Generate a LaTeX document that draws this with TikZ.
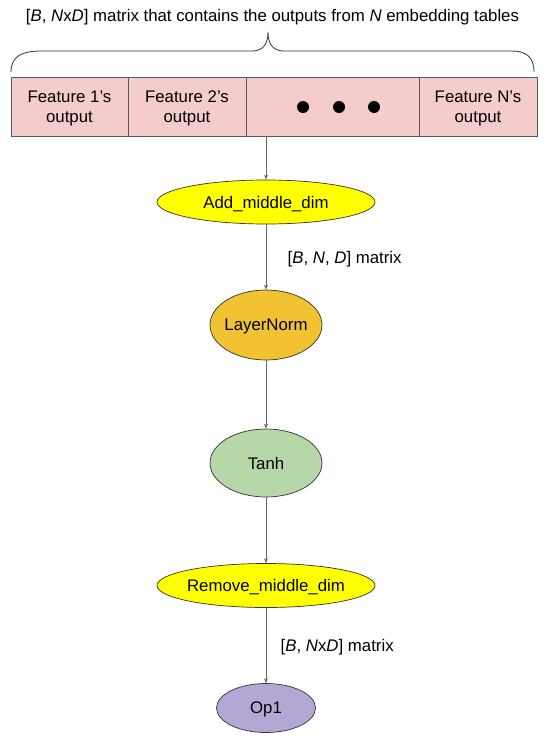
\documentclass[tikz,border=0pt]{standalone}
\usepackage{fontspec}
\setmainfont{Liberation Sans}
\usetikzlibrary{arrows.meta,shapes.geometric}
\definecolor{cellpink}{HTML}{F4CCCC}
\definecolor{opyellow}{HTML}{FFFF00}
\definecolor{opgold}{HTML}{F1C232}
\definecolor{opgreen}{HTML}{B6D7A8}
\definecolor{oppurple}{HTML}{B4A7D6}
\newcommand{\arw}{-{Stealth[length=5pt,width=4pt]}}

\begin{document}
\begin{tikzpicture}[x=1pt,y=-1pt,
  font=\fontsize{16.8}{20}\selectfont,
  every node/.append style={text depth=0pt},
  cell/.style={draw=black!65,fill=cellpink,minimum height=59pt,inner sep=0pt,align=center,line width=0.8pt},
  op/.style={ellipse,draw=black!80,line width=0.7pt,inner xsep=-6pt,inner ysep=0pt},
  link/.style={draw=black!60,line width=0.8pt,\arw}]
\useasboundingbox (0,0) rectangle (544,739);
%header and brace
\node (title) at (272.5,15) {[\textit{B}, \textit{N}x\textit{D}] matrix that contains the outputs from \textit{N} embedding tables};
\draw[line width=0.8pt,black!80] (11,72) .. controls (11,56) and (22,51) .. (42,51) -- (252,51)
  .. controls (263,51) and (268,44) .. (268,32)
  .. controls (268,44) and (273,51) .. (284,51) -- (512,51)
  .. controls (526,51) and (534,57) .. (534,72);
%embedding outputs
\node[cell,minimum width=117pt] (f1) at (69.5,106.5) {Feature 1’s\\output};
\node[cell,minimum width=118pt] (f2) at (187,106.5) {Feature 2’s\\output};
\node[cell,minimum width=173pt] (fdots) at (332.5,106.5) {};
\node[cell,minimum width=118pt] (fn) at (478,106.5) {Feature N’s\\output};
\foreach \x in {303,339,374}
  \fill (\x,107) circle (6pt);
\coordinate (rowout) at (266,136);
%ops
\node[op,fill=opyellow,minimum width=218pt,minimum height=44pt] (add) at (266,202) {Add\_middle\_dim};
\node[op,fill=opgold,minimum width=112pt,minimum height=70pt] (ln) at (266,325) {LayerNorm};
\node[op,fill=opgreen,minimum width=112pt,minimum height=68pt] (tanh) at (266,463) {Tanh};
\node[op,fill=opyellow,minimum width=218pt,minimum height=44pt] (rm) at (266,585.5) {Remove\_middle\_dim};
\node[op,fill=oppurple,minimum width=99pt,minimum height=49pt] (op1) at (266,708) {Op1};
\draw[link] (rowout) -- (add);
\draw[link] (add) -- node[right=18pt] {[\textit{B}, \textit{N}, \textit{D}] matrix} (ln);
\draw[link] (ln) -- (tanh);
\draw[link] (tanh) -- (rm);
\draw[link] (rm) -- node[right=11pt] {[\textit{B}, \textit{N}x\textit{D}] matrix} (op1);
\end{tikzpicture}
\end{document}
